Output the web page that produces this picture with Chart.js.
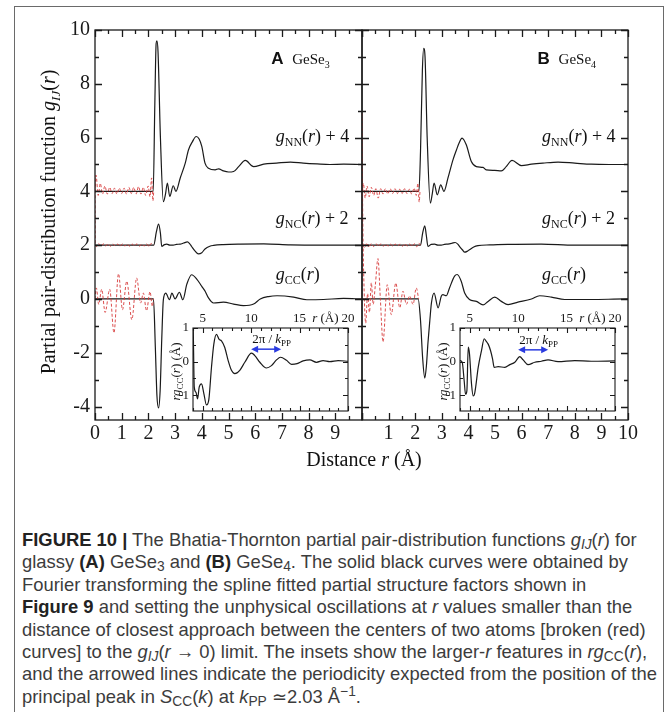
<!DOCTYPE html>
<html>
<head>
<meta charset="utf-8">
<script src="https://cdn.jsdelivr.net/npm/chart.js@4.4.1/dist/chart.umd.min.js"></script>
<style>
  body { margin: 0; background: #fff; }
  #wrap { position: relative; width: 669px; height: 712px; overflow: hidden; background: #fff; }
  #wrap canvas { position: absolute; left: 0; top: 0; }
  .frame { position: absolute; left: 14px; top: 6px; width: 648px; height: 740px; border: 1.5px solid #6a6a6a; }
  #caption { position: absolute; left: 22px; top: 529px; font-family: 'Liberation Sans', Arial, sans-serif;
             font-size: 18.4px; line-height: 22.4px; color: #3c3c3c; white-space: nowrap; }
  #caption b { color: #222; }
  #caption sub { font-size: 75%; vertical-align: -0.25em; line-height: 0; }
  #caption sup { font-size: 75%; vertical-align: 0.5em; line-height: 0; }
</style>
</head>
<body>
<div id="wrap">
  <div class="frame"></div>
  <canvas id="panelA" width="669" height="480"></canvas>
  <canvas id="panelB" width="669" height="480"></canvas>
  <canvas id="insetA" width="669" height="480"></canvas>
  <canvas id="insetB" width="669" height="480"></canvas>
  <div id="caption">
    <div><b>FIGURE 10 |</b> The Bhatia-Thornton partial pair-distribution functions <i>g<sub>IJ</sub></i>(<i>r</i>) for</div>
    <div>glassy <b>(A)</b> GeSe<sub>3</sub> and <b>(B)</b> GeSe<sub>4</sub>. The solid black curves were obtained by</div>
    <div>Fourier transforming the spline fitted partial structure factors shown in</div>
    <div><b>Figure 9</b> and setting the unphysical oscillations at <i>r</i> values smaller than the</div>
    <div>distance of closest approach between the centers of two atoms [broken (red)</div>
    <div>curves] to the <i>g<sub>IJ</sub></i>(<i>r</i> &rarr; 0) limit. The insets show the larger-<i>r</i> features in <i>rg</i><sub>CC</sub>(<i>r</i>),</div>
    <div>and the arrowed lines indicate the periodicity expected from the position of the</div>
    <div>principal peak in <i>S</i><sub>CC</sub>(<i>k</i>) at <i>k</i><sub>PP</sub> &#8771;2.03 &Aring;<sup>&minus;1</sup>.</div>
  </div>
</div>
<script>
  const SERIF = "'Liberation Serif', 'DejaVu Serif', serif";
  const SANS = "'Liberation Sans', Arial, sans-serif";

  // tick labels
  const rTicks = [0, 1, 2, 3, 4, 5, 6, 7, 8, 9, 10];
  const gTicks = [-4, -2, 0, 2, 4, 6, 8, 10];
  const insetRTicks = [5, 10, 15, 20];
  const insetVTicks = [-1, 0, 1];

  // (A) GeSe3 - solid curves
  const rNN_A = [0, 2.18, 2.24, 2.29, 2.32, 2.36, 2.45, 2.56, 2.64, 2.71, 2.8, 2.93, 3.03, 3.19, 3.38, 3.5, 3.65, 3.79, 3.9, 4.0, 4.12, 4.25, 4.5, 4.63, 4.81, 5.0, 5.19, 5.38, 5.63, 5.94, 6.32, 6.8, 7.32, 7.8, 8.32, 8.8, 9.31, 10];
  const gNN_A = [4, 4.0, 7.2, 9.5, 9.6, 9.2, 6.0, 3.62, 3.9, 4.31, 3.81, 4.21, 4.0, 4.49, 5.05, 5.54, 5.85, 6.04, 5.95, 5.67, 5.05, 4.86, 4.8, 4.84, 4.76, 4.72, 4.74, 4.92, 5.15, 4.92, 5.01, 5.05, 5.09, 5.05, 5.02, 5.0, 5.01, 5.0];
  const rNC_A = [0, 2.2, 2.3, 2.38, 2.45, 2.5, 2.6, 2.69, 2.8, 2.93, 3.05, 3.19, 3.32, 3.46, 3.55, 3.62, 3.75, 3.87, 4.0, 4.12, 4.3, 4.44, 4.8, 5.44, 6.32, 7.32, 8.56, 10];
  const gNC_A = [2, 2.0, 2.5, 2.78, 2.45, 1.95, 2.02, 2.04, 2.0, 2.0, 2.03, 2.04, 2.08, 2.12, 2.05, 1.95, 1.78, 1.68, 1.72, 1.86, 1.96, 1.99, 2.02, 2.04, 2.05, 2.01, 2.0, 2.0];
  const rCC_A = [0, 2.19, 2.26, 2.32, 2.38, 2.44, 2.5, 2.56, 2.65, 2.79, 2.88, 3.0, 3.16, 3.29, 3.44, 3.62, 3.81, 4.0, 4.13, 4.25, 4.44, 4.81, 5.19, 5.56, 5.94, 6.19, 6.5, 6.82, 7.44, 7.94, 8.56, 9.31, 10];
  const gCC_A = [0, 0, -1.8, -3.6, -4.05, -3.4, -1.5, -0.03, 0.22, -0.03, 0.22, 0.0, 0.25, -0.03, 0.55, 0.9, 0.74, 0.47, 0.28, 0.04, -0.15, -0.12, -0.19, -0.25, -0.19, 0.0, 0.09, 0.12, 0.07, -0.03, -0.02, 0.02, 0.0];

  // (A) broken (red) curves below closest approach
  const rNNred_A = [0.0, 0.04, 0.12, 0.2, 0.28, 0.37, 0.46, 0.55, 0.64, 0.73, 0.82, 0.91, 1.0, 1.09, 1.18, 1.27, 1.36, 1.45, 1.54, 1.63, 1.72, 1.81, 1.9, 1.99, 2.06, 2.12, 2.17, 2.2];
  const gNNred_A = [4.0, 4.6, 3.85, 4.3, 3.9, 4.2, 3.9, 4.15, 3.92, 4.12, 3.9, 4.12, 3.92, 4.12, 3.9, 4.15, 3.92, 4.15, 3.9, 4.18, 3.9, 4.15, 3.85, 4.2, 3.8, 4.5, 3.65, 4.0];
  const rNCred_A = [0.0, 0.01, 0.06, 0.14, 0.22, 0.31, 0.4, 0.49, 0.58, 0.67, 0.76, 0.85, 0.94, 1.03, 1.12, 1.21, 1.3, 1.39, 1.48, 1.57, 1.66, 1.75, 1.84, 1.93, 2.02, 2.1, 2.2];
  const gNCred_A = [4.6, 2.1, 1.95, 2.06, 1.96, 2.05, 1.97, 2.05, 1.96, 2.04, 1.97, 2.04, 1.96, 2.05, 1.97, 2.04, 1.96, 2.04, 1.97, 2.05, 1.96, 2.04, 1.97, 2.05, 1.95, 2.06, 2.0];
  const rCCred_A = [0.0, 0.05, 0.14, 0.25, 0.38, 0.55, 0.71, 0.88, 1.03, 1.19, 1.38, 1.56, 1.71, 1.81, 1.93, 2.06, 2.15, 2.19];
  const gCCred_A = [0.0, 0.41, -0.2, 0.36, -0.5, 0.36, -1.26, 0.94, -0.4, 0.66, -0.77, 0.78, -0.15, 0.22, -0.44, 0.27, -0.28, 0.0];

  // (B) GeSe4 - solid curves
  const rNN_B = [0, 2.14, 2.2, 2.27, 2.32, 2.37, 2.45, 2.57, 2.64, 2.71, 2.83, 2.96, 3.08, 3.23, 3.42, 3.55, 3.65, 3.76, 3.92, 4.11, 4.3, 4.55, 4.67, 4.99, 5.24, 5.42, 5.64, 5.99, 6.37, 6.8, 7.37, 8.0, 8.62, 9.3, 10];
  const gNN_B = [4, 4.0, 5.5, 8.5, 9.32, 9.0, 6.0, 3.56, 3.9, 4.31, 3.87, 4.24, 4.0, 4.49, 5.17, 5.54, 5.8, 5.98, 5.73, 5.11, 4.92, 4.89, 4.8, 4.78, 4.76, 4.92, 5.15, 4.96, 5.01, 5.05, 5.09, 5.05, 5.01, 5.0, 5.0];
  const rNC_B = [0, 2.2, 2.28, 2.36, 2.42, 2.48, 2.6, 2.73, 2.85, 2.98, 3.1, 3.23, 3.38, 3.5, 3.6, 3.67, 3.78, 3.86, 3.95, 4.04, 4.2, 4.36, 4.8, 5.48, 6.74, 7.99, 10];
  const gNC_B = [2, 2.0, 2.45, 2.72, 2.35, 1.95, 2.03, 2.04, 2.0, 2.0, 2.03, 2.04, 2.07, 2.1, 2.04, 1.95, 1.82, 1.74, 1.77, 1.83, 1.93, 1.98, 2.01, 2.03, 2.04, 2.0, 2.0];
  const rCC_B = [0, 2.11, 2.2, 2.28, 2.36, 2.42, 2.48, 2.55, 2.61, 2.71, 2.86, 2.98, 3.04, 3.17, 3.29, 3.48, 3.58, 3.73, 3.86, 4.04, 4.3, 4.55, 4.74, 4.99, 5.24, 5.49, 5.86, 6.37, 6.68, 7.12, 7.62, 8.62, 9.9, 10];
  const gCC_B = [0, 0, -0.8, -2.2, -2.94, -2.5, -1.63, -0.8, -0.15, 0.22, -0.33, 0.1, 0.16, 0.12, 0.41, 0.85, 0.91, 0.66, 0.22, -0.02, -0.09, -0.22, -0.09, 0.07, -0.09, -0.21, -0.12, 0.0, 0.12, 0.07, -0.02, -0.02, 0.0, 0.0];

  // (B) broken (red) curves
  const rNNred_B = [0.02, 0.05, 0.12, 0.19, 0.27, 0.35, 0.44, 0.52, 0.61, 0.7, 0.79, 0.88, 0.97, 1.06, 1.15, 1.24, 1.33, 1.42, 1.51, 1.6, 1.69, 1.78, 1.87, 1.96, 2.04, 2.1, 2.15, 2.18];
  const gNNred_B = [4.0, 4.3, 3.75, 4.2, 3.8, 4.15, 3.85, 4.1, 3.75, 4.1, 3.9, 4.1, 3.9, 4.1, 3.92, 4.1, 3.92, 4.08, 3.92, 4.1, 3.92, 4.08, 3.9, 4.12, 3.85, 4.3, 3.6, 4.0];
  const rNCred_B = [0.02, 0.1, 0.18, 0.26, 0.35, 0.44, 0.53, 0.62, 0.71, 0.8, 0.89, 0.98, 1.07, 1.16, 1.25, 1.34, 1.43, 1.52, 1.61, 1.7, 1.79, 1.88, 1.97, 2.06, 2.14, 2.2];
  const gNCred_B = [2.0, 1.9, 2.08, 1.92, 2.06, 1.95, 2.05, 1.96, 2.05, 1.96, 2.04, 1.97, 2.04, 1.96, 2.04, 1.97, 2.04, 1.96, 2.05, 1.97, 2.04, 1.96, 2.05, 1.94, 2.07, 2.0];
  const rCCred_B = [0.0, 0.03, 0.08, 0.14, 0.21, 0.28, 0.35, 0.42, 0.5, 0.6, 0.69, 0.79, 0.95, 1.1, 1.27, 1.42, 1.54, 1.67, 1.79, 1.92, 2.04, 2.13];
  const gCCred_B = [6.9, 3.0, 0.3, -0.9, 0.2, -0.5, 0.6, -0.2, 0.5, 1.5, 0.0, -1.6, 0.53, -0.58, 0.59, -0.33, 0.29, -0.2, 0.11, -0.2, 0.41, 0.0];

  // insets: r g_CC(r)
  const rIns_A = [4.0, 4.03, 4.13, 4.3, 4.47, 4.64, 4.88, 5.12, 5.39, 5.63, 5.91, 6.15, 6.42, 6.7, 6.94, 7.28, 7.63, 7.97, 8.32, 8.83, 9.35, 10.04, 10.38, 10.9, 11.58, 12.1, 12.62, 13.03, 13.65, 14.17, 14.75, 15.37, 16.06, 16.75, 17.43, 18.12, 18.98, 20];
  const vIns_A = [1.3, 0.89, -0.76, -0.91, -1.11, -0.76, -0.66, -0.95, -1.29, -1.14, -0.16, 0.52, 0.81, 0.66, 0.62, 0.42, 0.03, -0.26, -0.36, -0.26, -0.02, 0.25, 0.18, -0.02, -0.19, -0.12, 0.05, 0.13, 0.04, -0.08, -0.06, 0.02, 0.05, -0.02, 0.03, 0.0, 0.03, 0.01];
  const rIns_B = [4.0, 4.23, 4.43, 4.57, 4.71, 4.85, 4.98, 5.19, 5.36, 5.53, 5.88, 6.22, 6.5, 6.67, 6.91, 7.15, 7.36, 7.53, 7.94, 8.63, 9.14, 9.66, 10.17, 10.52, 11.03, 11.72, 12.4, 13.09, 14.12, 15.84, 17.55, 20];
  const vIns_B = [0.03, -0.02, -0.57, -0.97, -0.87, 0.43, 0.23, -0.67, -1.02, -0.92, -0.17, 0.33, 0.68, 0.62, 0.52, 0.33, 0.08, -0.17, -0.15, -0.17, -0.09, -0.02, 0.15, 0.05, -0.09, -0.02, 0.01, 0.05, 0.0, 0.03, 0.01, 0.02];

  // 2pi/kPP arrows (kPP = 2.03 1/A)
  const arrowR = [10, 13.1];
  const arrowV_A = 0.37;
  const arrowV_B = 0.35;

  function xy(r, g) {
    return r.map((v, i) => ({ x: v, y: g[i] }));
  }

  function curve(r, g, red) {
    return {
      data: xy(r, g),
      borderColor: red ? 'rgba(215,60,60,0.9)' : '#1a1a1a',
      borderWidth: red ? 1 : 1.2,
      borderDash: red ? [3, 2] : [],
      pointRadius: 0,
      cubicInterpolationMode: 'monotone',
      fill: false
    };
  }

  // draw a string made of pieces with different fonts
  function rich(ctx, parts, x, y, align) {
    let w = 0;
    parts.forEach(p => { ctx.font = p[1]; w += ctx.measureText(p[0]).width; });
    let cx = align === 'center' ? x - w / 2 : x;
    parts.forEach(p => {
      ctx.font = p[1];
      ctx.fillText(p[0], cx, y + (p[2] || 0));
      cx += ctx.measureText(p[0]).width;
    });
  }

  function isMult(v, step) {
    return Math.abs(v / step - Math.round(v / step)) < 1e-6;
  }

  // frame with inward ticks on all four sides
  const boxTicks = {
    id: 'boxTicks',
    beforeDatasetsDraw(chart, args, o) {
      if (!o.white) return;
      const a = chart.chartArea;
      chart.ctx.save();
      chart.ctx.fillStyle = '#fff';
      chart.ctx.fillRect(a.left, a.top, a.right - a.left, a.bottom - a.top);
      chart.ctx.restore();
    },
    afterDatasetsDraw(chart, args, o) {
      const { ctx, chartArea: a, scales: { x, y } } = chart;
      ctx.save();
      ctx.strokeStyle = '#1a1a1a';
      ctx.lineWidth = o.lw;
      ctx.strokeRect(a.left, a.top, a.right - a.left, a.bottom - a.top);
      ctx.beginPath();
      for (let v = Math.ceil(x.min / o.xMinor) * o.xMinor; v <= x.max + 1e-9; v += o.xMinor) {
        const px = Math.round(x.getPixelForValue(v)) + 0.5;
        const len = isMult(v, o.xMajor) ? o.major : o.minor;
        ctx.moveTo(px, a.bottom); ctx.lineTo(px, a.bottom - len);
        ctx.moveTo(px, a.top); ctx.lineTo(px, a.top + len);
      }
      for (let v = Math.ceil(y.min / o.yMinor) * o.yMinor; v <= y.max + 1e-9; v += o.yMinor) {
        const py = Math.round(y.getPixelForValue(v)) + 0.5;
        const len = isMult(v, o.yMajor) ? o.major : o.minor;
        ctx.moveTo(a.left, py); ctx.lineTo(a.left + len, py);
        ctx.moveTo(a.right, py); ctx.lineTo(a.right - len, py);
      }
      ctx.stroke();
      ctx.restore();
    }
  };

  function makeChart(id, cfg) {
    return new Chart(document.getElementById(id), {
      type: 'line',
      data: { datasets: cfg.datasets },
      options: {
        responsive: false,
        animation: false,
        devicePixelRatio: 1,
        layout: { padding: cfg.padding },
        plugins: { legend: { display: false }, tooltip: { enabled: false }, boxTicks: cfg.ticks },
        scales: {
          x: {
            type: 'linear', position: cfg.xPos, min: cfg.xMin, max: cfg.xMax,
            grid: { display: false, drawTicks: false }, border: { display: false },
            afterBuildTicks: s => { s.ticks = cfg.xTicks.map(v => ({ value: v })); },
            afterFit: s => { s.height = cfg.xH; },
            ticks: { autoSkip: false, maxRotation: 0, padding: cfg.xPad, color: '#1a1a1a',
                     font: { family: SERIF, size: cfg.fontSize }, callback: cfg.xLabel }
          },
          y: {
            type: 'linear', min: cfg.yMin, max: cfg.yMax,
            grid: { display: false, drawTicks: false }, border: { display: false },
            afterBuildTicks: s => { s.ticks = cfg.yTicks.map(v => ({ value: v })); },
            afterFit: s => { s.width = cfg.yW; },
            ticks: { display: cfg.yShow, autoSkip: false, padding: cfg.yPad, color: '#1a1a1a',
                     font: { family: SERIF, size: cfg.fontSize } }
          }
        }
      },
      plugins: [boxTicks, cfg.extra]
    });
  }

  // curve names and panel tags
  function panelText(tag, sub) {
    return {
      id: 'panelText' + tag,
      afterDraw(chart) {
        const { ctx, scales: { x, y } } = chart;
        ctx.save();
        ctx.fillStyle = '#111';
        ctx.textBaseline = 'alphabetic';
        const tx = x.getPixelForValue(6.6);
        ctx.font = 'bold 17px ' + SANS;
        ctx.fillText(tag, tx, y.getPixelForValue(8.75));
        rich(ctx, [['GeSe', '15px ' + SERIF], [sub, '10px ' + SERIF, 4]], tx + 21, y.getPixelForValue(8.75), 'left');
        const lx = x.getPixelForValue(6.77);
        const it = 'italic 18px ' + SERIF, rm = '18px ' + SERIF, sm = '12px ' + SERIF;
        rich(ctx, [['g', it], ['NN', sm, 4], ['(', rm], ['r', it], [') + 4', rm]], lx, y.getPixelForValue(5.85), 'left');
        rich(ctx, [['g', it], ['NC', sm, 4], ['(', rm], ['r', it], [') + 2', rm]], lx, y.getPixelForValue(2.8), 'left');
        rich(ctx, [['g', it], ['CC', sm, 4], ['(', rm], ['r', it], [')', rm]], lx, y.getPixelForValue(0.72), 'left');
        ctx.restore();
      }
    };
  }

  const axisTitles = {
    id: 'axisTitles',
    afterDraw(chart) {
      const { ctx, chartArea: a } = chart;
      ctx.save();
      ctx.fillStyle = '#111';
      const rm = '20px ' + SERIF, it = 'italic 20px ' + SERIF;
      rich(ctx, [['Distance ', rm], ['r', it], [' (\u00c5)', rm]], a.right + 2, 466, 'center');
      ctx.translate(55, (a.top + a.bottom) / 2 - 3);
      ctx.rotate(-Math.PI / 2);
      rich(ctx, [['Partial pair-distribution function ', rm], ['g', it], ['IJ', 'italic 13px ' + SERIF, 5],
                 ['(', rm], ['r', it], [')', rm]], 0, 0, 'center');
      ctx.restore();
    }
  };

  function insetText(level) {
    return {
      id: 'insetText',
      afterDraw(chart) {
        const { ctx, chartArea: a, scales: { x, y } } = chart;
        ctx.save();
        ctx.fillStyle = '#111';
        const rm = '13px ' + SERIF, it = 'italic 13px ' + SERIF;
        rich(ctx, [['r', it], [' (\u00c5)', rm]], x.getPixelForValue(16.3), a.top - 6, 'left');
        // arrow
        const x1 = x.getPixelForValue(arrowR[0]), x2 = x.getPixelForValue(arrowR[1]);
        const py = y.getPixelForValue(level);
        ctx.strokeStyle = '#2a3be0';
        ctx.fillStyle = '#2a3be0';
        ctx.lineWidth = 1.5;
        ctx.beginPath(); ctx.moveTo(x1 + 3, py); ctx.lineTo(x2 - 3, py); ctx.stroke();
        ctx.beginPath(); ctx.moveTo(x1, py); ctx.lineTo(x1 + 7, py - 3.5); ctx.lineTo(x1 + 7, py + 3.5); ctx.fill();
        ctx.beginPath(); ctx.moveTo(x2, py); ctx.lineTo(x2 - 7, py - 3.5); ctx.lineTo(x2 - 7, py + 3.5); ctx.fill();
        ctx.fillStyle = '#111';
        rich(ctx, [['2\u03c0 / ', rm], ['k', it], ['PP', '9px ' + SERIF, 3]], x1 + 1, py - 6, 'left');
        // y title
        ctx.translate(a.left - 13, (a.top + a.bottom) / 2 + 2);
        ctx.rotate(-Math.PI / 2);
        rich(ctx, [['rg', it], ['CC', '9px ' + SERIF, 3], ['(', rm], ['r', it], [') (\u00c5)', rm]], 0, 0, 'center');
        ctx.restore();
      }
    };
  }

  const mainTicks = { xMajor: 1, xMinor: 0.5, yMajor: 2, yMinor: 1, major: 7, minor: 4, lw: 1.3 };
  const insetTicksOpt = { xMajor: 5, xMinor: 1, yMajor: 1, yMinor: 0.5, major: 5, minor: 3, lw: 1.1, white: true };

  makeChart('panelA', {
    datasets: [curve(rNNred_A, gNNred_A, true), curve(rNCred_A, gNCred_A, true), curve(rCCred_A, gCCred_A, true),
               curve(rNN_A, gNN_A), curve(rNC_A, gNC_A), curve(rCC_A, gCC_A)],
    padding: { left: 0, right: 307, top: 30, bottom: 0 },
    xPos: 'bottom', xMin: 0, xMax: 10, xTicks: rTicks, xH: 60, xPad: 2, xLabel: v => (v === 10 ? '' : v),
    yMin: -4.5, yMax: 10, yTicks: gTicks, yW: 95, yPad: 5, yShow: true,
    fontSize: 20, ticks: mainTicks,
    extra: {
      id: 'both',
      afterDraw(chart) { panelText('A', '3').afterDraw(chart); axisTitles.afterDraw(chart); }
    }
  });

  makeChart('panelB', {
    datasets: [curve(rNNred_B, gNNred_B, true), curve(rNCred_B, gNCred_B, true), curve(rCCred_B, gCCred_B, true),
               curve(rNN_B, gNN_B), curve(rNC_B, gNC_B), curve(rCC_B, gCC_B)],
    padding: { left: 0, right: 41, top: 30, bottom: 0 },
    xPos: 'bottom', xMin: 0, xMax: 10, xTicks: rTicks, xH: 60, xPad: 2, xLabel: v => (v === 0 ? '' : v),
    yMin: -4.5, yMax: 10, yTicks: gTicks, yW: 362, yPad: 5, yShow: false,
    fontSize: 20, ticks: mainTicks,
    extra: panelText('B', '4')
  });

  makeChart('insetA', {
    datasets: [curve(rIns_A, vIns_A)],
    padding: { left: 0, right: 321, top: 0, bottom: 69 },
    xPos: 'top', xMin: 4, xMax: 20, xTicks: insetRTicks, xH: 328, xPad: 2, xLabel: v => v,
    yMin: -1.47, yMax: 1.0, yTicks: insetVTicks, yW: 193, yPad: 4, yShow: true,
    fontSize: 13, ticks: insetTicksOpt,
    extra: insetText(arrowV_A)
  });

  makeChart('insetB', {
    datasets: [curve(rIns_B, vIns_B)],
    padding: { left: 0, right: 54, top: 0, bottom: 69 },
    xPos: 'top', xMin: 4, xMax: 20, xTicks: insetRTicks, xH: 328, xPad: 2, xLabel: v => v,
    yMin: -1.47, yMax: 1.0, yTicks: insetVTicks, yW: 460, yPad: 4, yShow: true,
    fontSize: 13, ticks: insetTicksOpt,
    extra: insetText(arrowV_B)
  });
</script>
</body>
</html>
